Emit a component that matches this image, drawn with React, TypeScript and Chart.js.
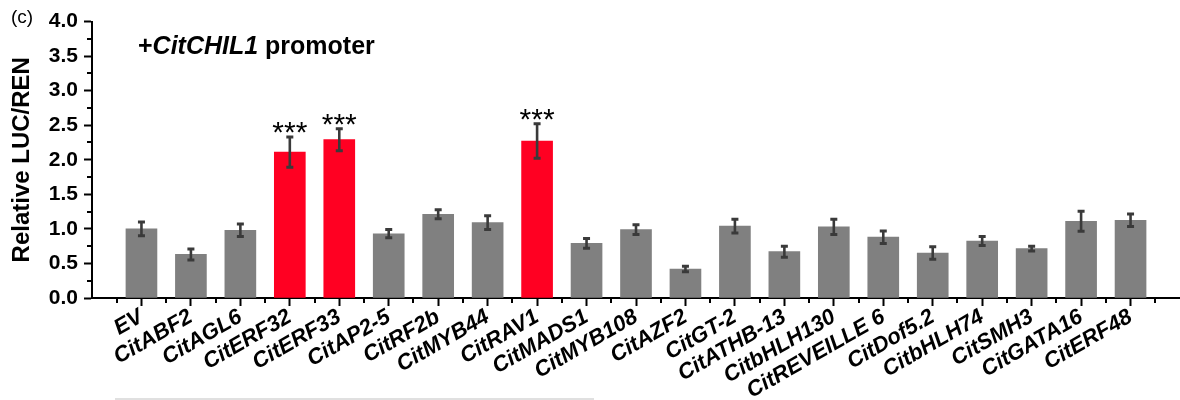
import React, { useEffect, useRef } from 'react';
import { Chart, registerables } from 'chart.js';

Chart.register(...registerables);

const categories = [
  'EV', 'CitABF2', 'CitAGL6', 'CitERF32', 'CitERF33', 'CitAP2-5', 'CitRF2b',
  'CitMYB44', 'CitRAV1', 'CitMADS1', 'CitMYB108', 'CitAZF2', 'CitGT-2',
  'CitATHB-13', 'CitbHLH130', 'CitREVEILLE 6', 'CitDof5.2', 'CitbHLH74',
  'CitSMH3', 'CitGATA16', 'CitERF48',
];
const values = [
  1.0, 0.63, 0.98, 2.11, 2.29, 0.93, 1.21, 1.09, 2.27, 0.79, 0.99, 0.42, 1.04,
  0.67, 1.03, 0.88, 0.65, 0.825, 0.715, 1.11, 1.125,
];
const errors = [
  0.1, 0.08, 0.09, 0.22, 0.16, 0.06, 0.065, 0.1, 0.25, 0.07, 0.07, 0.04, 0.1,
  0.08, 0.11, 0.09, 0.09, 0.065, 0.035, 0.145, 0.09,
];
const significance = [
  '', '', '', '***', '***', '', '', '', '***', '', '', '', '', '', '', '', '',
  '', '', '', '',
];
const panelLabel = '(c)';
const titlePrefix = '+';
const titleGene = 'CitCHIL1';
const titleSuffix = ' promoter';
const yAxisTitle = 'Relative LUC/REN';

const FONT = '"Liberation Sans", Arial, Helvetica, sans-serif';
const GREY = '#808080';
const RED = '#ff0022';

const decor = {
  id: 'decor',
  afterDatasetsDraw(chart: any) {
    const { ctx, scales } = chart;
    const x = scales.x;
    const y = scales.y;
    ctx.save();
    ctx.strokeStyle = '#3a3a3a';
    values.forEach((v, i) => {
      const px = x.getPixelForValue(i);
      const top = y.getPixelForValue(v + errors[i]);
      const bot = y.getPixelForValue(v - errors[i]);
      ctx.lineCap = 'butt';
      ctx.lineWidth = 2.6;
      ctx.beginPath();
      ctx.moveTo(px, top);
      ctx.lineTo(px, bot);
      ctx.stroke();
      ctx.lineWidth = 3;
      ctx.beginPath();
      ctx.moveTo(px - 3.5, top);
      ctx.lineTo(px + 3.5, top);
      ctx.moveTo(px - 3.5, bot);
      ctx.lineTo(px + 3.5, bot);
      ctx.stroke();
      if (significance[i]) {
        ctx.fillStyle = '#000';
        ctx.font = `30px ${FONT}`;
        ctx.textAlign = 'center';
        ctx.textBaseline = 'alphabetic';
        ctx.fillText(significance[i], px, top + 5);
      }
    });
    ctx.restore();
  },
  afterDraw(chart: any) {
    const { ctx, scales, chartArea } = chart;
    const x = scales.x;
    const y = scales.y;
    ctx.save();
    ctx.strokeStyle = '#000';
    ctx.lineWidth = 2;
    ctx.beginPath();
    for (let i = -1; i <= 20; i++) {
      const px = Math.round(x.getPixelForValue(i + 0.5));
      ctx.moveTo(px, chartArea.bottom);
      ctx.lineTo(px, chartArea.bottom + 5);
    }
    for (let v = 0.25; v < 4; v += 0.5) {
      const py = Math.round(y.getPixelForValue(v));
      ctx.moveTo(chartArea.left - 5, py);
      ctx.lineTo(chartArea.left, py);
    }
    ctx.stroke();

    // title
    ctx.fillStyle = '#000';
    ctx.textAlign = 'left';
    ctx.textBaseline = 'alphabetic';
    let tx = 138;
    const ty = 54;
    ctx.font = `bold 25px ${FONT}`;
    ctx.fillText(titlePrefix, tx, ty);
    tx += ctx.measureText(titlePrefix).width;
    ctx.font = `italic bold 25px ${FONT}`;
    ctx.fillText(titleGene, tx, ty);
    tx += ctx.measureText(titleGene).width;
    ctx.font = `bold 25px ${FONT}`;
    ctx.fillText(titleSuffix, tx, ty);

    // panel label
    ctx.font = `19px ${FONT}`;
    ctx.fillText(panelLabel, 11, 23);

    // faint bottom rule
    ctx.strokeStyle = '#d6d6d6';
    ctx.lineWidth = 1.5;
    ctx.beginPath();
    ctx.moveTo(115, 399);
    ctx.lineTo(594, 399);
    ctx.stroke();
    ctx.restore();
  },
};

export default function App() {
  const ref = useRef<HTMLCanvasElement | null>(null);
  useEffect(() => {
    if (!ref.current) return;
    const chart = new Chart(ref.current, {
      type: 'bar',
      data: {
        datasets: [
          {
            data: categories.map((_, i) => ({ x: i, y: values[i] })),
            backgroundColor: categories.map((_, i) => (significance[i] ? RED : GREY)),
            barThickness: 31,
            borderWidth: 0,
          },
        ],
      },
      options: {
        animation: false,
        responsive: false,
        devicePixelRatio: 1,
        layout: { padding: { top: 21.5, left: 0, right: 0, bottom: 0 } },
        plugins: { legend: { display: false }, tooltip: { enabled: false } },
        scales: {
          x: {
            type: 'linear',
            min: -1,
            max: 21,
            offset: false,
            afterFit: (s: any) => {
              s.height = 102;
              s.paddingRight = 0;
              s.paddingLeft = 0;
            },
            grid: {
              offset: false,
              drawOnChartArea: false,
              drawTicks: true,
              tickLength: 8,
              tickWidth: 2,
              tickColor: (c: any) =>
                c.tick && c.tick.value >= 0 && c.tick.value <= 20 ? '#000' : 'rgba(0,0,0,0)',
            },
            border: { display: true, color: '#000', width: 2 },
            ticks: {
              stepSize: 1,
              autoSkip: false,
              maxRotation: 30,
              minRotation: 30,
              padding: -2,
              color: '#000',
              font: { family: FONT, size: 22, weight: 'bold', style: 'italic' },
              callback: (v: any) => categories[v] ?? '',
            },
          },
          y: {
            min: 0,
            max: 4,
            afterFit: (s: any) => {
              s.width = 92;
            },
            grid: {
              drawOnChartArea: false,
              drawTicks: true,
              tickLength: 8,
              tickWidth: 2,
              tickColor: '#000',
            },
            border: { display: true, color: '#000', width: 2 },
            ticks: {
              stepSize: 0.5,
              padding: 6,
              color: '#000',
              font: { family: FONT, size: 21, weight: 'bold' },
              callback: (v: any) => Number(v).toFixed(1),
            },
            title: {
              display: true,
              text: yAxisTitle,
              color: '#000',
              padding: { top: 8, bottom: 0 },
              font: { family: FONT, size: 24, weight: 'bold' },
            },
          },
        },
      },
      plugins: [decor],
    });
    return () => chart.destroy();
  }, []);
  return (
    <div style={{ position: 'absolute', left: 0, top: 0, width: 1180, height: 400, background: '#fff' }}>
      <canvas ref={ref} width={1180} height={400} />
    </div>
  );
}
